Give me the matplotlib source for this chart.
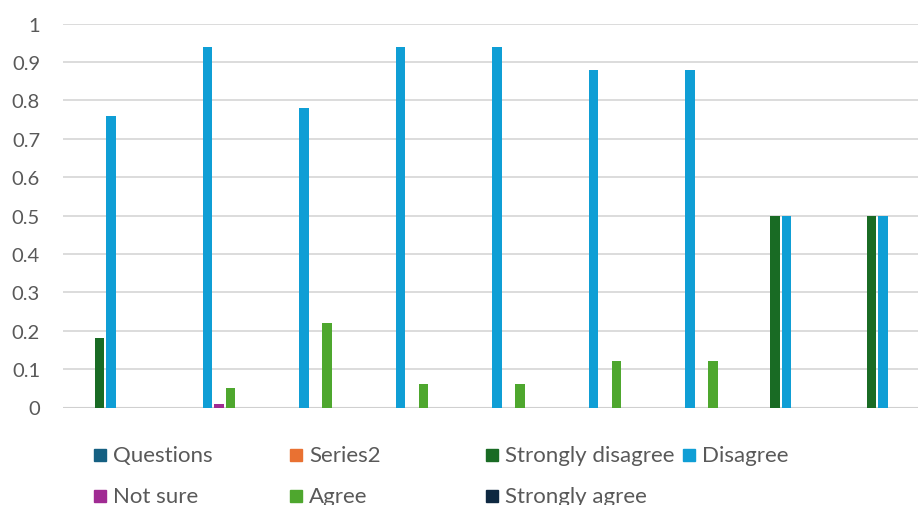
import numpy as np
import matplotlib.pyplot as plt
from matplotlib.patches import Rectangle

plt.rcParams['font.family'] = ['Lato', 'DejaVu Sans']

# Daten
series = ['Questions', 'Series2', 'Strongly disagree', 'Disagree', 'Not sure', 'Agree', 'Strongly agree']
colors = ['#156082', '#E97132', '#196B24', '#0F9ED5', '#A02B93', '#4EA72E', '#0E2841']
questions = [0, 0, 0, 0, 0, 0, 0, 0, 0]
series2 = [0, 0, 0, 0, 0, 0, 0, 0, 0]
strongly_disagree = [0.18, 0, 0, 0, 0, 0, 0, 0.5, 0.5]
disagree = [0.76, 0.94, 0.78, 0.94, 0.94, 0.88, 0.88, 0.5, 0.5]
not_sure = [0, 0.01, 0, 0, 0, 0, 0, 0, 0]
agree = [0, 0.05, 0.22, 0.06, 0.06, 0.12, 0.12, 0, 0]
strongly_agree = [0, 0, 0, 0, 0, 0, 0, 0, 0]
values = [questions, series2, strongly_disagree, disagree, not_sure, agree, strongly_agree]

W, H = 918, 506
fig = plt.figure(figsize=(W / 100, H / 100), dpi=100)
# plot area runs a bit past the right edge (cropped like the original)
ax = fig.add_axes([63 / W, 1 - 408.5 / H, 868 / W, 384 / H])

x = np.arange(len(disagree))
step = 11.5 / 96.5
bw = 9.5 / 96.5
for k, (vals, c) in enumerate(zip(values, colors)):
    off = (k - 3) * step
    v = np.array(vals)
    m = v > 0
    ax.bar(x[m] + off, v[m], width=bw, color=c, zorder=3)

ax.set_xlim(-0.5, len(x) - 0.5)
ax.set_ylim(0, 1)
ax.set_yticks(np.arange(0, 1.01, 0.1))
ax.set_yticklabels(['0'] + ['%.1f' % t for t in np.arange(0.1, 0.95, 0.1)] + ['1'])
ax.set_xticks([])
ax.grid(axis='y', color='#d9d9d9', linewidth=1.3, zorder=0)
ax.axhline(0, color='#d0d0d0', linewidth=1.5, zorder=2)
for s in ax.spines.values():
    s.set_visible(False)
ax.tick_params(axis='y', length=0, pad=16.5, labelsize=14.5, labelcolor='#595959')

# Legende von Hand, wie in Excel
leg_pos = [(94, 456), (290, 456), (486, 456), (683, 456),
           (94, 497), (290, 497), (486, 497)]
for name, c, (lx, ly) in zip(series, colors, leg_pos):
    fig.patches.append(Rectangle((lx / W, 1 - (ly + 6) / H), 12 / W, 12 / H,
                                 transform=fig.transFigure, color=c))
    fig.text((lx + 19) / W, 1 - ly / H, name, fontsize=16, color='#595959',
             va='center', ha='left')

fig.savefig('out.png', dpi=100)
